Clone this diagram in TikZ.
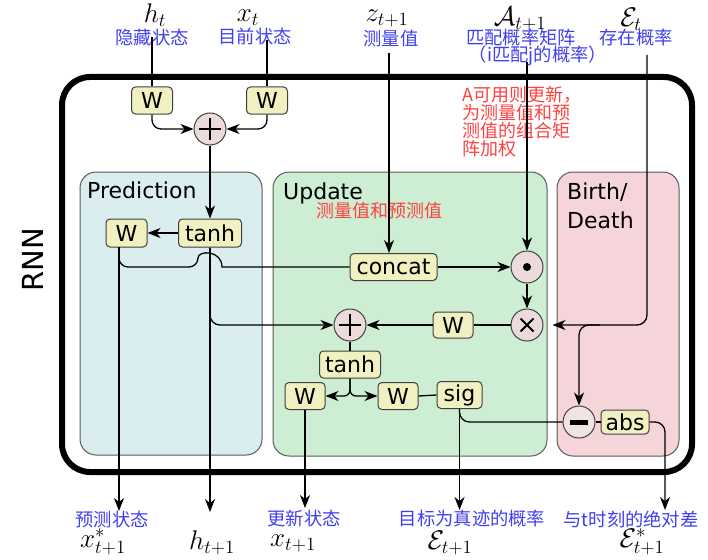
\RequirePackage{fix-cm}
\documentclass[tikz,border=0pt]{standalone}
\usepackage[no-math]{fontspec}
\usetikzlibrary{arrows.meta,calc}
\newfontfamily\dejavu{DejaVu Sans}
\newfontfamily\cjk{Noto Sans CJK SC}
\newcommand{\mlab}[1]{\scalebox{1.3}{$#1$}}
\definecolor{predbg}{HTML}{DAEDEF}
\definecolor{updbg}{HTML}{CDEED3}
\definecolor{bdbg}{HTML}{F5D4DA}
\definecolor{opfill}{HTML}{F0F0C0}
\definecolor{circfill}{HTML}{EDDADA}
\definecolor{minfill}{HTML}{EFE3E3}
\definecolor{bluetxt}{HTML}{4040F0}
\definecolor{redtxt}{HTML}{FF4040}
\begin{document}
\begin{tikzpicture}[x=1pt,y=-1pt,
  conn/.style={line width=1.3pt},
  arr/.style={conn,-{Stealth[length=13pt,width=10pt,inset=4pt]}},
  op/.style={draw=black!75,fill=opfill,rounded corners=4pt,line width=1pt,inner sep=0pt,minimum height=27pt,font=\dejavu\fontsize{22}{22}\selectfont},
  circ/.style={circle,draw=black!75,fill=circfill,line width=1pt,minimum size=32pt,inner sep=0pt},
  region/.style={draw=black!65,line width=1pt,rounded corners=16pt},
  sanslab/.style={anchor=base west,inner sep=0pt,font=\dejavu\fontsize{22}{22}\selectfont},
  mathlab/.style={inner sep=0pt,font=\fontsize{20.74}{24}\selectfont},
  bluelab/.style={inner sep=0pt,text=bluetxt,font=\cjk\fontsize{18.3}{18}\selectfont},
  redlab/.style={inner sep=0pt,text=redtxt,font=\cjk\fontsize{18}{18}\selectfont},
  sym/.style={line width=2.2pt}
]
\useasboundingbox (0,0) rectangle (708,559);
% regions
\draw[region,fill=predbg] (80,172) rectangle (262,455);
\draw[region,fill=updbg] (273,172) rectangle (547,456);
\draw[region,fill=bdbg] (557,172) rectangle (679,456);
\draw[line width=6pt,rounded corners=28pt] (62,77) rectangle (692,472);
\node[font=\dejavu\fontsize{29}{29}\selectfont,rotate=90] (rnn) at (33,260) {RNN};
\node[sanslab] (predlbl) at (87,198) {Prediction};
\node[sanslab] (updlbl) at (283,199) {Update};
\node[sanslab] (birth) at (567,199) {Birth/};
\node[sanslab] (death) at (567,228) {Death};
% red notes
\node[redlab] (r1) at (379,211) {测量值和预测值};
\node[redlab,align=left,anchor=north west] (r2) at (462,86) {A可用则更新，\\为测量值和预\\测值的组合矩\\阵加权};
% nodes
\node[op,minimum width=41pt] (W1) at (152,100.5) {W};
\node[op,minimum width=41pt] (W2) at (267,100.5) {W};
\node[circ] (p1) at (210,129) {};
\node[op,minimum width=63pt,minimum height=28pt] (tP) at (210,233) {tanh};
\node[op,minimum width=41pt,minimum height=28pt] (WP) at (126.5,233) {W};
\node[op,minimum width=87pt] (cc) at (393.5,267) {concat};
\node[circ] (od) at (527,267) {};
\node[circ] (ox) at (527,325) {};
\node[op,minimum width=40pt,minimum height=26pt] (WU) at (453,325) {W};
\node[circ] (p2) at (350,325) {};
\node[op,minimum width=61pt] (t2) at (350,364.5) {tanh};
\node[op,minimum width=40pt] (W3) at (305,396) {W};
\node[op,minimum width=40pt] (W4) at (398,396) {W};
\node[op,minimum width=45pt] (sg) at (459.5,395) {sig};
\node[circ,fill=minfill] (mn) at (579,422) {};
\node[op,minimum width=48pt,minimum height=24pt] (ab) at (625,422) {abs};
% symbols
\draw[sym] ($(p1)+(-11,0)$) -- ($(p1)+(11,0)$) ($(p1)+(0,-11)$) -- ($(p1)+(0,11)$);
\draw[sym] ($(p2)+(-11,0)$) -- ($(p2)+(11,0)$) ($(p2)+(0,-11)$) -- ($(p2)+(0,11)$);
\fill (od) circle[radius=4pt];
\draw[line width=2pt] ($(ox)+(-6.5,-6.5)$) -- ($(ox)+(6.5,6.5)$) ($(ox)+(-6.5,6.5)$) -- ($(ox)+(6.5,-6.5)$);
\draw[line width=5pt] ($(mn)+(-9,0)$) -- ($(mn)+(9,0)$);
% coordinates
\coordinate (htin) at (152,37);
\coordinate (xtin) at (267,40);
\coordinate (zin) at (389,53);
\coordinate (ain) at (527,62);
\coordinate (ein) at (647,55);
\coordinate (wpb) at (119,247);
\coordinate (hopL) at (198,267);
\coordinate (hopR) at (222,267);
\coordinate (brs) at (600,325);
\coordinate (oxs) at (119,511);
\coordinate (ohs) at (210,512);
\coordinate (ox1) at (305,508);
\coordinate (oE) at (459.5,510);
\coordinate (oEs) at (665,510);
% connectors
\draw[conn] (htin) -- (W1.north);
\draw[conn] (xtin) -- (W2.north);
\draw[arr,rounded corners=9pt] (W1.south) |- (p1.west);
\draw[arr,rounded corners=9pt] (W2.south) |- (p1.east);
\draw[arr] (p1.south) -- (tP.north);
\draw[arr] (tP.west) -- (WP.east);
\draw[arr] (wpb) -- (oxs);
\draw[conn] (wpb) [rounded corners=9pt] |- (hopL) [sharp corners] .. controls +(0,-17) and +(0,-17) .. (hopR) -- (cc.west);
\draw[arr,rounded corners=10pt] (tP.south) |- (p2.west);
\draw[arr] (tP.south) -- (ohs);
\draw[arr] (zin) -- (zin |- cc.north);
\draw[arr] (cc.east) -- (od.west);
\draw[arr] (ain) -- (od.north);
\draw[arr] (od.south) -- (ox.north);
\draw[conn] (ox.west) -- (WU.east);
\draw[arr] (WU.west) -- (p2.east);
\draw[arr,rounded corners=10pt,shorten >=9pt] (ein) |- (ox.east);
\draw[arr,rounded corners=10pt] (brs) -| (mn.north);
\draw[conn] (p2.south) -- (t2.north);
\draw[arr,rounded corners=6pt] (t2.south) |- (W3.east);
\draw[arr,rounded corners=6pt] (t2.south) |- (W4.west);
\draw[conn] (W4.east) -- (sg.west);
\draw[arr] (W3.south) -- (ox1);
\draw[arr] (sg.south) -- (oE);
\draw[conn,rounded corners=10pt] (sg.south) |- (mn.west);
\draw[conn] (mn.east) -- (ab.west);
\draw[arr,rounded corners=10pt] (ab.east) -| (oEs);
% top labels
\node[mathlab] (lht) at (155,15) {\mlab{h_t}};
\node[mathlab] (lxt) at (248,18) {\mlab{x_t}};
\node[mathlab] (lz) at (387,18) {\mlab{z_{t+1}}};
\node[mathlab] (lA) at (520,19) {\mlab{\mathcal{A}_{t+1}}};
\node[mathlab] (lE) at (631,19) {\mlab{\mathcal{E}_t}};
\node[bluelab] (b1) at (152,38) {隐藏状态};
\node[bluelab] (b2) at (255,36) {目前状态};
\node[bluelab] (b3) at (391,39) {测量值};
\node[bluelab] (b4) at (521,38) {匹配概率矩阵};
\node[bluelab] (b5) at (538,56) {（i匹配j的概率）};
\node[bluelab] (b6) at (636,38) {存在概率};
% bottom labels
\node[bluelab] (b7) at (112,519) {预测状态};
\node[bluelab] (b8) at (304,519) {更新状态};
\node[bluelab] (b9) at (472,519) {目标为真迹的概率};
\node[bluelab] (b10) at (631,519) {与t时刻的绝对差};
\node[mathlab] (lxs) at (103,542) {\mlab{x^*_{t+1}}};
\node[mathlab] (lh1) at (212,543) {\mlab{h_{t+1}}};
\node[mathlab] (lx1) at (293,543) {\mlab{x_{t+1}}};
\node[mathlab] (lE1) at (450,543) {\mlab{\mathcal{E}_{t+1}}};
\node[mathlab] (lEs) at (642,542) {\mlab{\mathcal{E}^*_{t+1}}};
\end{tikzpicture}
\end{document}
